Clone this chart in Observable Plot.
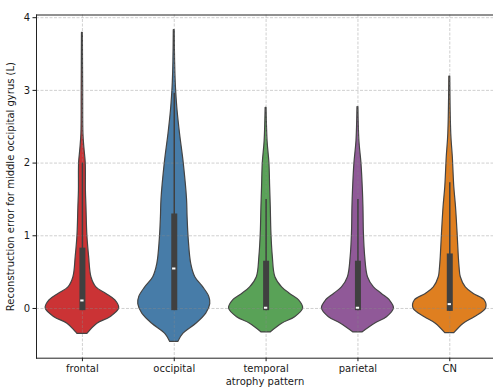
<!DOCTYPE html>
<html><head><meta charset="utf-8">
<script src="https://cdn.jsdelivr.net/npm/d3@7"></script>
<script src="https://cdn.jsdelivr.net/npm/@observablehq/plot@0.6"></script>
<style>body{margin:0;background:#fff;} #chart{width:493px;height:387px;}</style>
</head><body><div id="chart"></div>
<script>
const categories = ["frontal", "occipital", "temporal", "parietal", "CN"];
const colors = ["#cb3335", "#477ca8", "#59a257", "#905998", "#df7f20"];

// violin half-widths (in category units) at given error values
const frontalY = [-0.35, -0.21, -0.12, 0.0, 0.11, 0.2, 0.29, 0.43, 0.71, 1.0, 1.39, 1.62, 2.0, 2.2, 2.4, 3.0, 3.79];
const frontalW = [0.054, 0.163, 0.305, 0.400, 0.359, 0.261, 0.152, 0.098, 0.073, 0.054, 0.044, 0.038, 0.036, 0.022, 0.011, 0.008, 0.005];
const occipitalY = [-0.46, -0.35, -0.21, -0.07, 0.06, 0.16, 0.29, 0.43, 0.61, 0.94, 1.26, 1.5, 2.0, 2.4, 2.72, 2.96, 3.1, 3.4, 3.83];
const occipitalW = [0.044, 0.098, 0.240, 0.348, 0.392, 0.381, 0.316, 0.229, 0.185, 0.158, 0.145, 0.139, 0.103, 0.063, 0.036, 0.022, 0.016, 0.009, 0.005];
const temporalY = [-0.33, -0.21, -0.12, 0.0, 0.11, 0.2, 0.29, 0.43, 0.71, 1.03, 1.39, 1.67, 2.0, 2.3, 2.76];
const temporalW = [0.049, 0.174, 0.316, 0.403, 0.359, 0.261, 0.174, 0.101, 0.073, 0.058, 0.051, 0.044, 0.036, 0.016, 0.005];
const parietalY = [-0.33, -0.21, -0.12, 0.0, 0.11, 0.2, 0.29, 0.43, 0.71, 1.03, 1.39, 1.62, 2.0, 2.3, 2.77];
const parietalW = [0.049, 0.185, 0.316, 0.392, 0.348, 0.261, 0.174, 0.109, 0.079, 0.065, 0.060, 0.054, 0.038, 0.016, 0.005];
const cnY = [-0.34, -0.21, -0.12, 0.0, 0.11, 0.2, 0.29, 0.43, 0.57, 0.71, 1.03, 1.39, 1.67, 2.08, 2.4, 3.19];
const cnW = [0.049, 0.152, 0.272, 0.395, 0.381, 0.261, 0.174, 0.120, 0.106, 0.098, 0.085, 0.068, 0.049, 0.033, 0.016, 0.005];

// inner box statistics
const q1 = [-0.03, -0.03, -0.03, -0.03, -0.04];
const medians = [0.11, 0.55, 0.01, 0.01, 0.06];
const q3 = [0.83, 1.30, 0.65, 0.65, 0.75];
const whiskerHigh = [2.0, 2.96, 1.5, 1.5, 1.73];

const yTicks = [0, 1, 2, 3, 4];

const profiles = [[frontalY, frontalW], [occipitalY, occipitalW], [temporalY, temporalW], [parietalY, parietalW], [cnY, cnW]];
const violin = categories.flatMap((c, i) => profiles[i][0].map((y, k) => ({cat: c, i, y, w: profiles[i][1][k]})));
const box = categories.map((c, i) => ({cat: c, i, q1: q1[i], med: medians[i], q3: q3[i], hi: whiskerHigh[i]}));
const catIdx = categories.map((c, i) => i);

const gridStyle = {stroke: "#8a8a8a", strokeOpacity: 0.5, strokeWidth: 0.8, strokeDasharray: "3,1.5"};

const chart = Plot.plot({
  width: 493,
  height: 387,
  marginLeft: 36,
  marginRight: 0,
  marginTop: 14.5,
  marginBottom: 29.3,
  style: {fontFamily: "DejaVu Sans", fontSize: "10px", color: "#1a1a1a", background: "#fff"},
  x: {type: "linear", domain: [-0.5, 4.476]},
  y: {domain: [-0.684, 4.037]},
  color: {domain: categories, range: colors},
  marks: [
    Plot.areaX(violin, {y: "y", x1: d => d.i - d.w, x2: d => d.i + d.w, z: "cat", fill: "cat", stroke: "#444", strokeWidth: 1.2, curve: "catmull-rom"}),
    Plot.gridY(yTicks, gridStyle),
    Plot.gridX(catIdx, gridStyle),
    Plot.ruleX(box, {x: "i", y1: "q1", y2: "hi", stroke: "#404040", strokeWidth: 1.5}),
    Plot.ruleX(box, {x: "i", y1: "q1", y2: "q3", stroke: "#404040", strokeWidth: 6}),
    Plot.ruleY(box, {y: "med", x1: d => d.i - 0.018, x2: d => d.i + 0.018, stroke: "white", strokeWidth: 2}),
    Plot.axisX(catIdx, {tickFormat: i => categories[i], tickSize: 3.5, tickPadding: 3, label: "atrophy pattern", labelArrow: "none", labelAnchor: "center", labelOffset: 26.5, fontSize: 10}),
    Plot.axisY(yTicks, {tickFormat: d => String(d), tickSize: 3.5, tickPadding: 3, label: "Reconstruction error for middle occipital gyrus (L)", labelArrow: "none", labelAnchor: "center", labelOffset: 30, fontSize: 10}),
    Plot.frame({anchor: "top", stroke: "#222", strokeWidth: 1}),
    Plot.frame({anchor: "left", stroke: "#222", strokeWidth: 1}),
    Plot.frame({anchor: "bottom", stroke: "#222", strokeWidth: 1})
  ]
});
document.getElementById("chart").append(chart);
</script>
</body></html>
